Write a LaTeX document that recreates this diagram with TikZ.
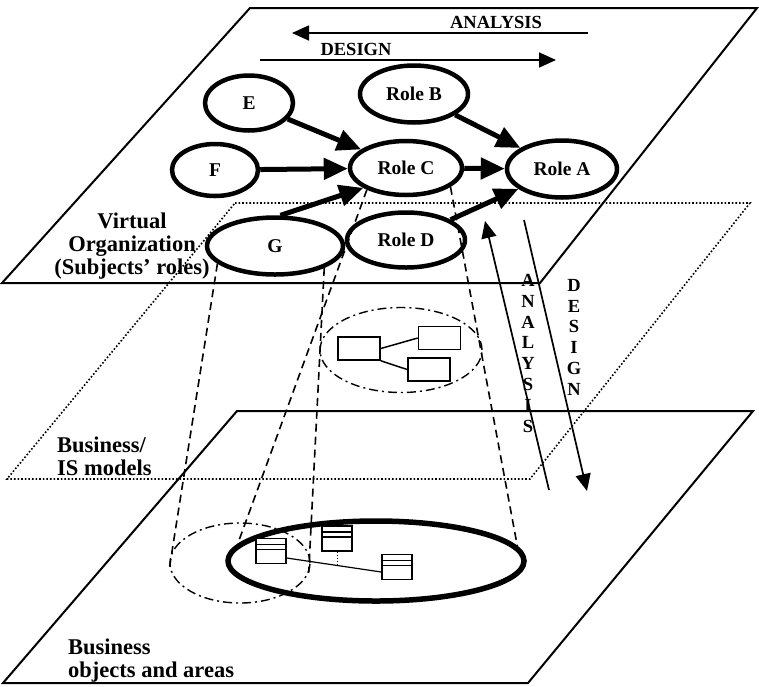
\documentclass[tikz,border=0pt]{standalone}
\usepackage{fontspec}
\setmainfont{Liberation Serif}
\usetikzlibrary{arrows.meta,shapes.geometric}
\tikzset{
  role/.style={ellipse,draw,line width=4.5pt,fill=white,inner sep=0pt,font=\fontsize{19.5}{21}\selectfont\bfseries},
  link/.style={line width=5pt,-{Triangle[length=24pt,width=21pt]}},
  flow/.style={line width=1.7pt,-{Triangle[length=17pt,width=15pt]}},
  flowtext/.style={inner sep=0pt,font=\fontsize{18.5}{20.8}\selectfont\bfseries},
  cone/.style={line width=1.6pt,dash pattern=on 8pt off 5pt},
  group/.style={ellipse,draw,line width=1.4pt,dash pattern=on 9pt off 4pt on 2pt off 4pt,inner sep=0pt},
  plane/.style={line width=2pt,line join=miter},
  planetext/.style={inner sep=0pt,font=\fontsize{22.5}{23}\selectfont\bfseries},
  mbox/.style={draw,line width=1.6pt,fill=white,minimum width=42pt,minimum height=23pt,inner sep=0pt},
  classbox/.style={draw,line width=1.4pt,fill=white,minimum width=30pt,minimum height=25pt,inner sep=0pt,
    path picture={
      \draw[line width=1.2pt] ([yshift=-6pt]path picture bounding box.north west) -- ([yshift=-6pt]path picture bounding box.north east);
      \draw[line width=1.2pt] ([yshift=-11pt]path picture bounding box.north west) -- ([yshift=-11pt]path picture bounding box.north east);}}
}
\begin{document}
\begin{tikzpicture}[x=1pt,y=-1pt]
    \useasboundingbox (0,0) rectangle (759,686);
    \draw[plane] (250,8) -- (757,8) -- (540,283) -- (2,283) -- cycle;
    \draw[line width=1.6pt,dotted] (235,203) -- (750,203) -- (530,479) -- (7,479) -- cycle;
    \draw[plane] (237,411) -- (753,411) -- (528,683) -- (3,683) -- cycle;

    \node[group,minimum width=162pt,minimum height=85pt] (grpMid) at (401,350) {};
    \node[group,minimum width=140pt,minimum height=80pt] (grpLow) at (240,563) {};
    \node[ellipse,draw,line width=5.5pt,minimum width=296pt,minimum height=80pt,inner sep=0pt] (base) at (376,561) {};

    \node[role,minimum width=88pt,minimum height=55pt] (E) at (249,103) {E};
    \node[role,minimum width=108pt,minimum height=57pt] (roleB) at (414,94) {Role B};
    \node[role,minimum width=86pt,minimum height=52pt] (F) at (215,170) {F};
    \node[role,minimum width=112pt,minimum height=54pt] (roleC) at (406,168) {Role C};
    \node[role,minimum width=110pt,minimum height=57pt] (roleA) at (562,169) {Role A};
    \node[role,minimum width=136pt,minimum height=57pt] (G) at (275,246) {G};
    \node[role,minimum width=118pt,minimum height=55pt] (roleD) at (406,240) {Role D};

    \draw[link] (E) -- (roleC);
    \draw[link] (F) -- (roleC);
    \draw[link] (G.80) -- (roleC.205);
    \draw[link] (roleB) -- (roleA);
    \draw[link] (roleC) -- (roleA);
    \draw[link] (roleD) -- (roleA);

    \draw[cone] (roleC.209) -- (base.173);
    \draw[cone] (roleC.337) -- (base.6);
    \draw[cone] (G.197) -- (grpLow.183);
    \draw[cone] (G.336) -- (grpLow.352);

    \node[mbox] (m1) at (359,348.5) {};
    \node[mbox] (m2) at (439.5,338) {};
    \node[mbox] (m3) at (429,369.5) {};
    \draw[line width=1.5pt] (m1.east) -- (m2.west);
    \draw[line width=1.5pt] (m1.south east) -- (m3.west);

    \node[classbox] (c1) at (271,551) {};
    \node[classbox] (c2) at (337,538.5) {};
    \node[classbox] (c3) at (397,567) {};
    \draw[line width=1.2pt] ([yshift=-7pt]c1.east) -- ([yshift=-5pt]c3.west) coordinate[pos=0.53] (cm);
    \draw[line width=1pt,dotted] (c2.south) -- (c2.south |- cm);

    \coordinate (anaR) at (588,33);
    \coordinate (anaL) at (292,33);
    \coordinate (desL) at (260,60);
    \coordinate (desR) at (556,60);
    \draw[flow] (anaR) -- (anaL);
    \draw[flow] (desL) -- (desR);
    \node[flowtext,anchor=base] (anaText) at (496,28.5) {ANALYSIS};
    \node[flowtext,anchor=base] (desText) at (356,55) {DESIGN};

    \coordinate (upB) at (549,490);
    \coordinate (upT) at (485,221);
    \coordinate (dnT) at (524,220);
    \coordinate (dnB) at (587,491);
    \draw[flow] (upB) -- (upT);
    \draw[flow] (dnT) -- (dnB);
    \node[flowtext,align=center,anchor=north] (anaVert) at (528,274) {A\\N\\A\\L\\Y\\S\\I\\S};
    \node[flowtext,align=center,anchor=north] (desVert) at (574,279) {D\\E\\S\\I\\G\\N};

    \node[planetext,align=center] (vo) at (132,246) {Virtual\\Organization\\(Subjects’ roles)};
    \node[planetext,align=left,anchor=west] (bis) at (57,456) {Business/\\IS models};
    \node[planetext,align=left,anchor=west] (boa) at (68,661) {Business\\objects and areas};
\end{tikzpicture}
\end{document}
